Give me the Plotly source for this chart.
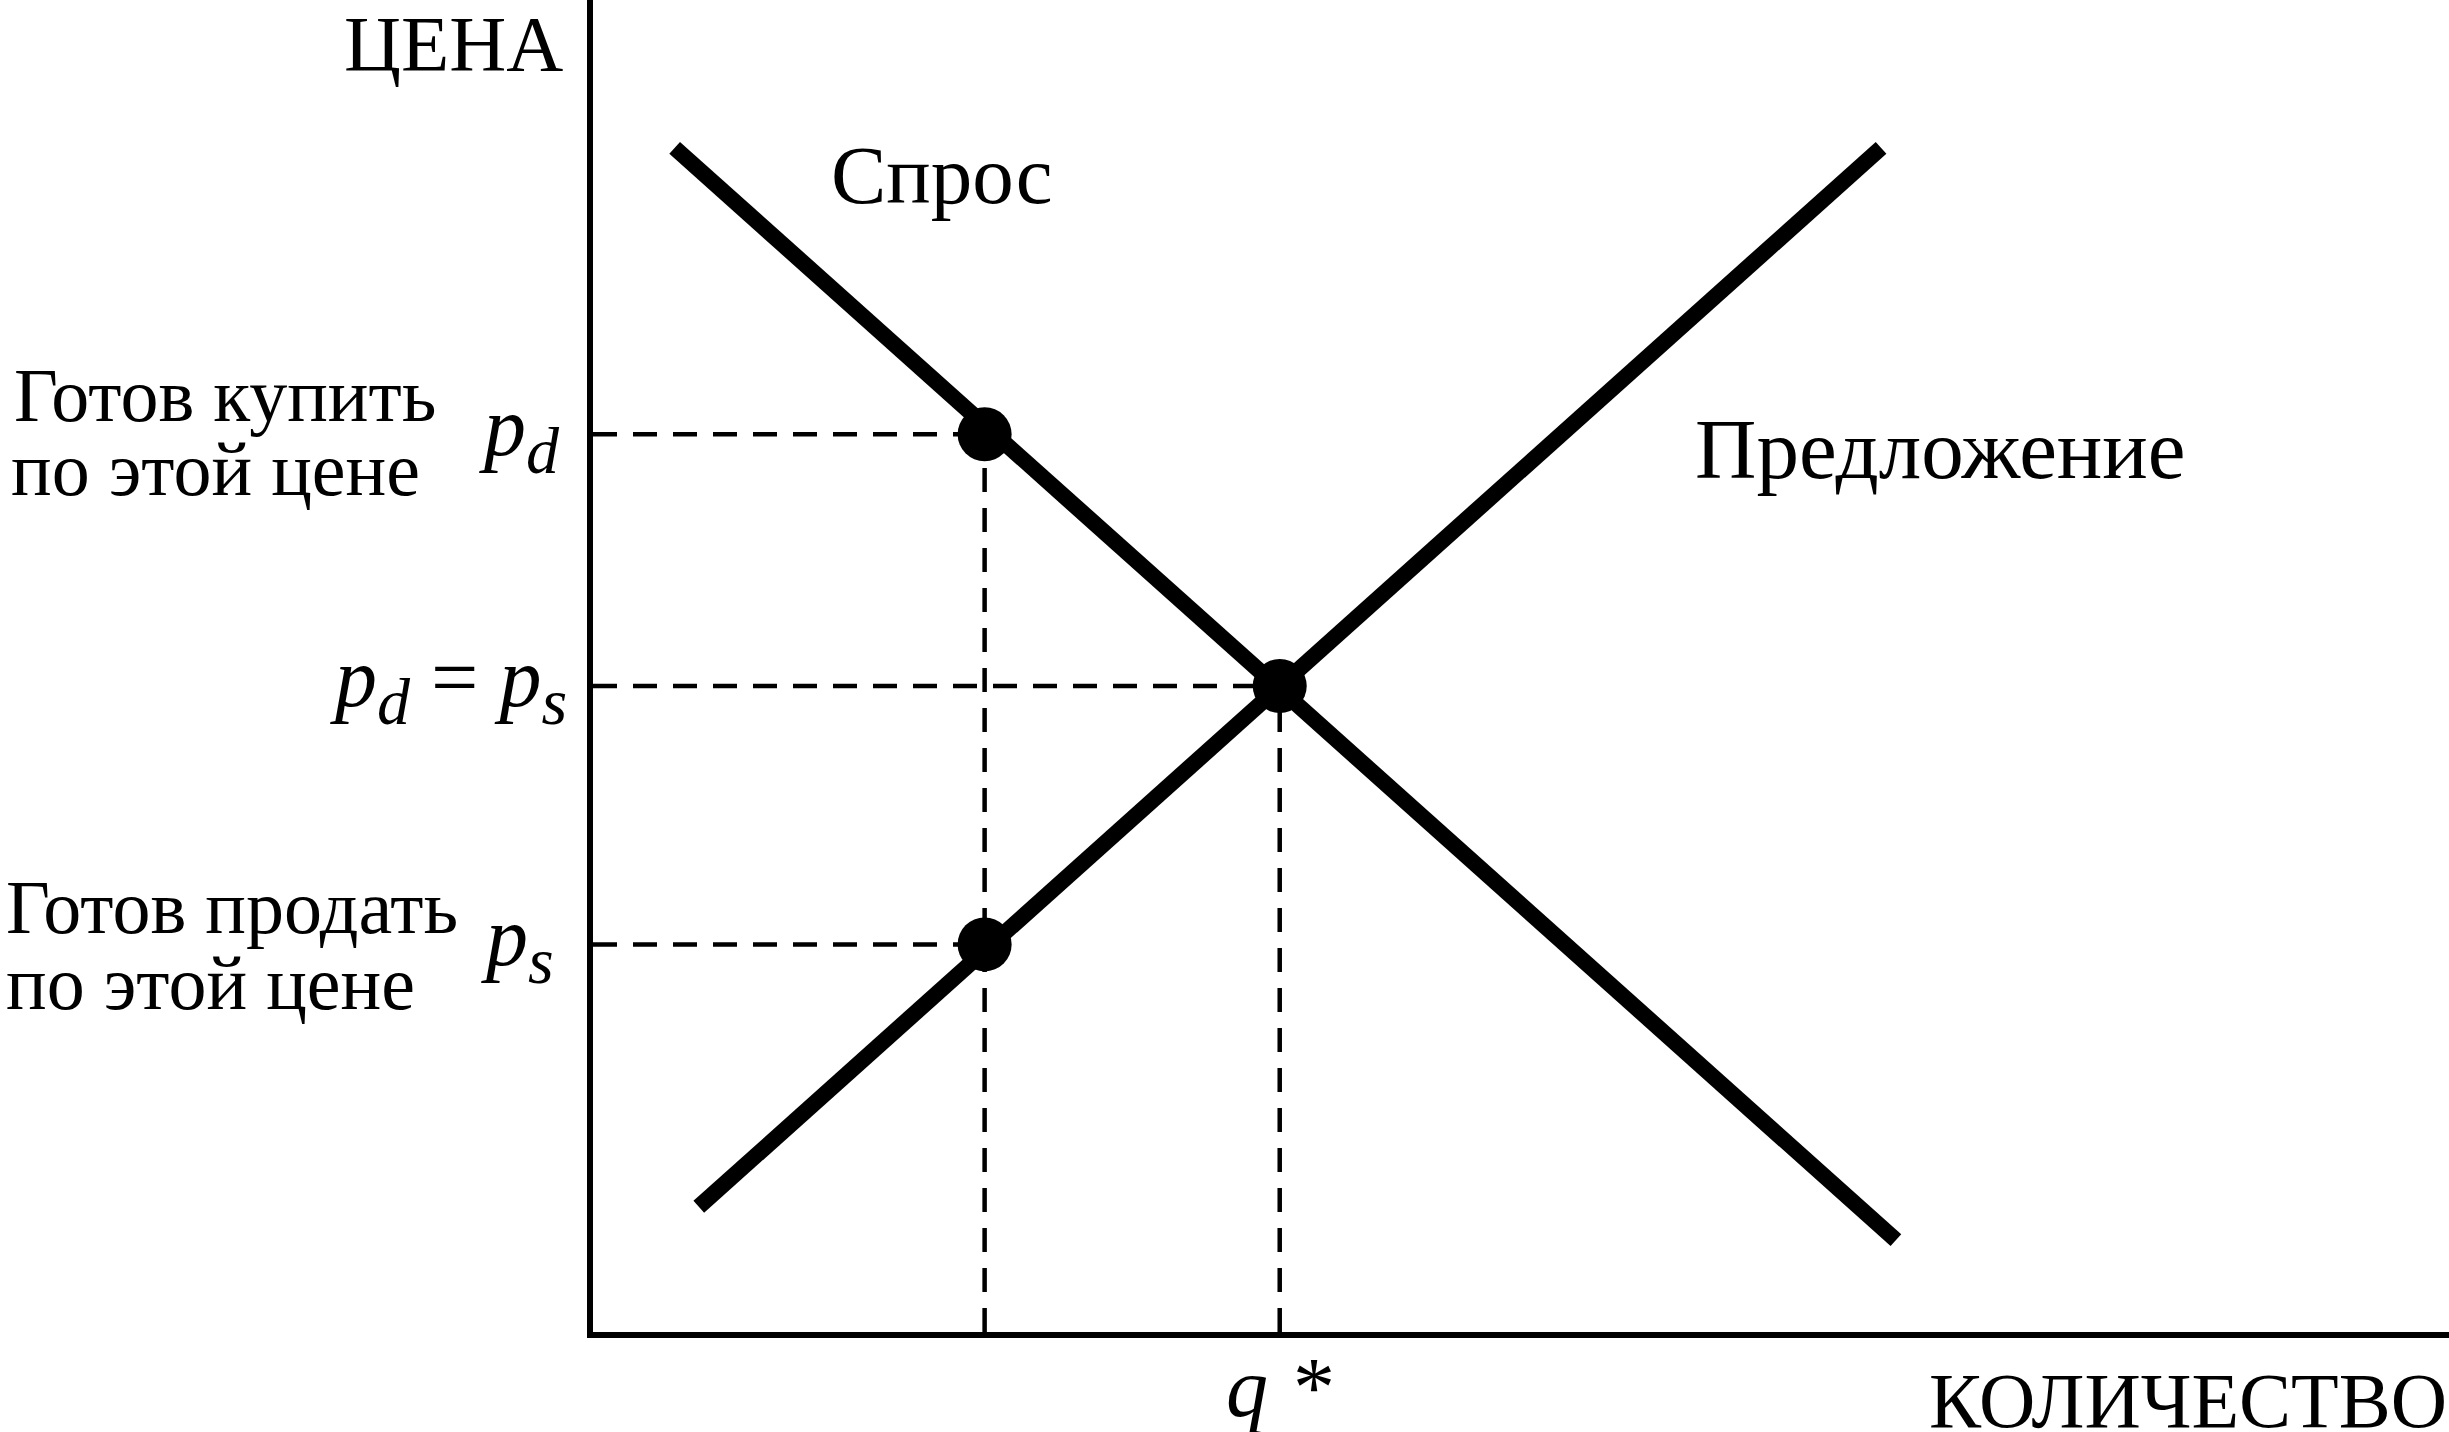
import plotly.graph_objects as go

# ---- data ----
demand_q = [0.44, 7.02]
demand_p = [8.89, 0.69]
supply_q = [0.57, 6.94]
supply_p = [0.94, 8.89]
q_star = 3.70
p_star = 4.85
q_low = 2.11
p_d = 6.74
p_s = 2.91

dot_q = [q_low, q_star, q_low]
dot_p = [p_d, p_star, p_s]

FONT = "Liberation Serif, Tinos, Times New Roman, DejaVu Serif, serif"
TXT = 76
MATH = 84
SUB = 66

PLOT_H = 1329.0  # plot-area height in px, used to convert paper positions

fig = go.Figure()

dash_style = dict(color="black", width=4.5, dash="24px,16px")
for p, q in [(p_d, q_low), (p_star, q_star), (p_s, q_low)]:
    fig.add_trace(go.Scatter(x=[0, q], y=[p, p], mode="lines", line=dash_style,
                             hoverinfo="skip"))
for q, p in [(q_low, p_d), (q_star, p_star)]:
    fig.add_trace(go.Scatter(x=[q, q], y=[0, p], mode="lines", line=dash_style,
                             hoverinfo="skip"))

fig.add_trace(go.Scatter(x=demand_q, y=demand_p, mode="lines",
                         line=dict(color="black", width=16), name="Спрос"))
fig.add_trace(go.Scatter(x=supply_q, y=supply_p, mode="lines",
                         line=dict(color="black", width=16), name="Предложение"))
fig.add_trace(go.Scatter(x=dot_q, y=dot_p, mode="markers",
                         marker=dict(color="black", size=54, line=dict(width=0))))

def sub(t):
    return f"<sub><span style='font-size:{SUB}px'>{t}</span></sub>"

ann = []
def A(size=TXT, yshift=-1, **kw):
    base = dict(showarrow=False, yshift=yshift,
                font=dict(family=FONT, size=size, color="black"))
    base.update(kw)
    ann.append(base)

A(text="ЦЕНА", size=79, xref="x", yref="y", x=0, y=9.684, xanchor="right", xshift=-28)
A(text="Спрос", size=83, xref="x", yref="y", x=1.304, y=8.69, xanchor="left", xshift=-6)
A(text="Предложение", size=85, xref="x", yref="y", x=5.94, y=6.64, xanchor="left", xshift=-2)
A(text="Готов купить", xref="paper", yref="y", x=0, xshift=-581, y=7.04, xanchor="left")
A(text="по этой цене", xref="paper", yref="y", x=0, xshift=-584, y=6.49, xanchor="left")
A(text="Готов продать", xref="paper", yref="y", x=0, xshift=-589, y=3.20, xanchor="left")
A(text="по этой цене", xref="paper", yref="y", x=0, xshift=-589, y=2.63, xanchor="left")
A(text="КОЛИЧЕСТВО", size=78, yshift=-39, xref="paper", yref="paper", x=1, xshift=0,
  y=(PLOT_H - 1404) / PLOT_H, xanchor="right")

A(text="<i>p" + sub("d") + "</i>", size=MATH, yshift=1, xref="x", yref="y", x=0, y=p_d,
  xanchor="right", xshift=-31)
A(text="<i>p" + sub("d") + "</i> = <i>p" + sub("s") + "</i>", size=MATH, yshift=1,
  xref="x", yref="y", x=0, y=p_star, xanchor="right", xshift=-24)
A(text="<i>p" + sub("s") + "</i>", size=MATH, yshift=1, xref="x", yref="y", x=0, y=p_s,
  xanchor="right", xshift=-37)
A(text="<i>q *</i>", size=MATH, yshift=-47, xref="x", yref="paper", x=q_star,
  y=(PLOT_H - 1386) / PLOT_H, xanchor="center", xshift=-1)

axis = dict(range=[0, 10], showgrid=False, zeroline=False, showticklabels=False,
            ticks="", showline=True, linecolor="black", linewidth=6, fixedrange=True)

fig.update_layout(
    width=2449, height=1432,
    margin=dict(l=593, r=0, t=0, b=100, pad=0, autoexpand=False),
    paper_bgcolor="white", plot_bgcolor="white",
    showlegend=False,
    xaxis=axis, yaxis=axis,
    annotations=ann,
)

fig.write_html("out.html", config={"displayModeBar": False},
               post_script="document.body.style.margin='0px';document.body.style.overflow='hidden';")
